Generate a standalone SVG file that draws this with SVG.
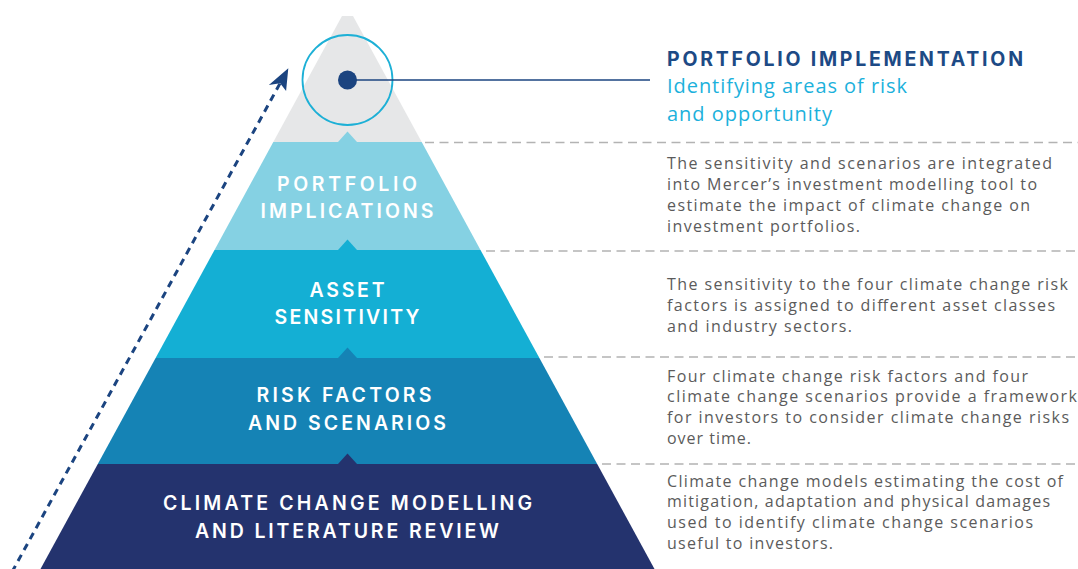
<svg xmlns="http://www.w3.org/2000/svg" width="1078" height="569" viewBox="0 0 1078 569">
  <style>
    .tier-label { font-family: Inter, "Liberation Sans", sans-serif; font-weight: 600; font-size: 19.5px; fill: #ffffff; text-anchor: middle; }
    .desc { font-family: "Open Sans", "Liberation Sans", sans-serif; font-size: 16px; fill: #5b5b5b; }
    .title { font-family: Inter, "Liberation Sans", sans-serif; font-weight: 700; font-size: 19.5px; fill: #1d4a85; }
    .subtitle { font-family: "Open Sans", "Liberation Sans", sans-serif; font-size: 20px; fill: #1cb1dc; }
    .sep { stroke: #b3b3b3; stroke-width: 1.5; stroke-dasharray: 9 5.5; fill: none; }
  </style>
  <defs>
    <marker id="arrowhead" viewBox="0 0 26 22" refX="24" refY="11" markerWidth="26" markerHeight="22" markerUnits="userSpaceOnUse" orient="auto">
      <path d="M0,2 L24,11 L3,20 L7,11 Z" fill="#1b4480"/>
    </marker>
  </defs>
  <rect width="1078" height="569" fill="#ffffff"/>

  <!-- pyramid tiers, top to bottom -->
  <g id="tier-apex">
    <polygon points="342,16 353,16 421.7,142 273.3,142" fill="#e6e7e8"/>
  </g>
  <g id="tier-portfolio-implications">
    <polygon points="273.3,142 421.7,142 480.5,250 214.5,250" fill="#85d1e3"/>
    <polygon points="338,142 357,142 347.5,131.5" fill="#85d1e3"/>
    <text class="tier-label" x="347" y="191" textLength="140" lengthAdjust="spacing">PORTFOLIO</text>
    <text class="tier-label" x="347" y="218" textLength="173" lengthAdjust="spacing">IMPLICATIONS</text>
  </g>
  <g id="tier-asset-sensitivity">
    <polygon points="214.5,250 480.5,250 539.4,358 155.6,358" fill="#14afd4"/>
    <polygon points="338,250 357,250 347.5,239.5" fill="#14afd4"/>
    <text class="tier-label" x="347" y="297" textLength="75" lengthAdjust="spacing">ASSET</text>
    <text class="tier-label" x="347" y="324" textLength="145" lengthAdjust="spacing">SENSITIVITY</text>
  </g>
  <g id="tier-risk-factors">
    <polygon points="155.6,358 539.4,358 597.2,464 97.8,464" fill="#1583b5"/>
    <polygon points="338,358 357,358 347.5,347.5" fill="#1583b5"/>
    <text class="tier-label" x="344" y="402" textLength="175" lengthAdjust="spacing">RISK FACTORS</text>
    <text class="tier-label" x="347" y="430" textLength="198" lengthAdjust="spacing">AND SCENARIOS</text>
  </g>
  <g id="tier-climate-modelling">
    <polygon points="97.8,464 597.2,464 654.5,569 40.5,569" fill="#24336e"/>
    <polygon points="338,464 357,464 347.5,453.5" fill="#24336e"/>
    <text class="tier-label" x="347.5" y="510" textLength="369" lengthAdjust="spacing">CLIMATE CHANGE MODELLING</text>
    <text class="tier-label" x="347" y="538" textLength="304" lengthAdjust="spacing">AND LITERATURE REVIEW</text>
  </g>

  <!-- focus ring on the apex -->
  <g id="apex-focus">
    <circle cx="347.5" cy="80" r="45" fill="none" stroke="#1db0d6" stroke-width="1.8"/>
    <circle cx="347.5" cy="80" r="9.5" fill="#1b4480"/>
  </g>

  <!-- connectors -->
  <g id="connectors">
    <line x1="347.5" y1="80" x2="650" y2="80" stroke="#1b4480" stroke-width="1.6"/>
    <line x1="12" y1="572" x2="288.3" y2="68.3" stroke="#1b4480" stroke-width="3" stroke-dasharray="7 5.5" marker-end="url(#arrowhead)"/>
  </g>

  <!-- dashed row separators -->
  <g id="separators">
    <line class="sep" x1="425" y1="142.5" x2="1078" y2="142.5"/>
    <line class="sep" x1="486" y1="251" x2="1078" y2="251"/>
    <line class="sep" x1="544" y1="357" x2="1078" y2="357"/>
    <line class="sep" x1="602" y1="464" x2="1078" y2="464"/>
  </g>

  <!-- headline for the apex -->
  <g id="label-portfolio-implementation">
    <text class="title" x="667" y="66" textLength="356" lengthAdjust="spacing">PORTFOLIO IMPLEMENTATION</text>
    <text class="subtitle" x="667" y="93" textLength="240" lengthAdjust="spacing">Identifying areas of risk</text>
    <text class="subtitle" x="667" y="121" textLength="165" lengthAdjust="spacing">and opportunity</text>
  </g>

  <!-- tier descriptions -->
  <g id="desc-portfolio-implications">
    <text class="desc" x="667" y="169" textLength="385" lengthAdjust="spacing">The sensitivity and scenarios are integrated</text>
    <text class="desc" x="667" y="190" textLength="370" lengthAdjust="spacing">into Mercer’s investment modelling tool to</text>
    <text class="desc" x="667" y="211" textLength="363" lengthAdjust="spacing">estimate the impact of climate change on</text>
    <text class="desc" x="667" y="232" textLength="193" lengthAdjust="spacing">investment portfolios.</text>
  </g>
  <g id="desc-asset-sensitivity">
    <text class="desc" x="667" y="290" textLength="401" lengthAdjust="spacing">The sensitivity to the four climate change risk</text>
    <text class="desc" x="667" y="311" textLength="388" lengthAdjust="spacing">factors is assigned to different asset classes</text>
    <text class="desc" x="667" y="332" textLength="185" lengthAdjust="spacing">and industry sectors.</text>
  </g>
  <g id="desc-risk-factors">
    <text class="desc" x="667" y="382" textLength="361" lengthAdjust="spacing">Four climate change risk factors and four</text>
    <text class="desc" x="667" y="402" textLength="410" lengthAdjust="spacing">climate change scenarios provide a framework</text>
    <text class="desc" x="667" y="423" textLength="402" lengthAdjust="spacing">for investors to consider climate change risks</text>
    <text class="desc" x="667" y="444" textLength="84" lengthAdjust="spacing">over time.</text>
  </g>
  <g id="desc-climate-modelling">
    <text class="desc" x="667" y="487" textLength="396" lengthAdjust="spacing">Climate change models estimating the cost of</text>
    <text class="desc" x="667" y="507" textLength="383" lengthAdjust="spacing">mitigation, adaptation and physical damages</text>
    <text class="desc" x="667" y="528" textLength="366" lengthAdjust="spacing">used to identify climate change scenarios</text>
    <text class="desc" x="667" y="549" textLength="166" lengthAdjust="spacing">useful to investors.</text>
  </g>
</svg>
